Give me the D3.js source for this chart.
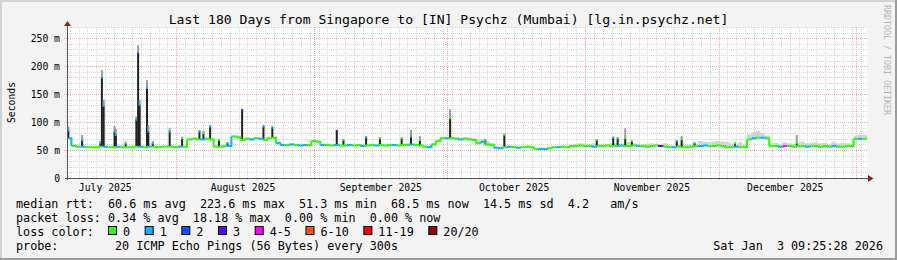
<!DOCTYPE html>
<html>
<head>
<meta charset="utf-8">
<script src="https://cdn.jsdelivr.net/npm/d3@7"></script>
<style>
  html, body { margin: 0; padding: 0; background: #f3f3f3; }
  svg { display: block; }
  text { font-family: "DejaVu Sans Mono", monospace; fill: #000; white-space: pre; }
</style>
</head>
<body>
<svg id="chart" width="897" height="260"></svg>
<script>
'use strict';

var chartTitle = 'Last 180 Days from Singapore to [IN] Psychz (Mumbai) [lg.in.psychz.net]';
var startTime = Date.UTC(2025, 6, 7, 9, 25, 28),
    endTime = Date.UTC(2026, 0, 3, 9, 25, 28);

// daily median rtt (ms), one value per day from the start
var medianMs = [
  71,57,56,56,55,55,55,56,56,55, 55,56,55,55,55,56,56,55,56,56,
  55,56,56,56,55,56,56,69,70,69, 69,70,69,56,56,57,57,74,73,68,
  70,69,71,70,68,71,72,62,59,59, 60,59,58,59,59,66,65,59,59,58,
  59,58,58,59,58,59,57,58,59,58, 59,58,59,59,58,59,59,60,59,58,
  56,55,60,66,71,71,71,70,69,70, 69,68,62,65,60,59,54,53,55,56,
  55,54,55,56,55,52,52,52,53,55, 55,56,55,57,57,58,57,57,56,57,
  57,58,57,57,58,57,57,58,57,57, 56,57,58,57,56,55,55,56,55,55,
  56,57,57,58,57,57,58,57,55,55, 56,55,55,69,71,72,72,71,57,57,
  56,57,57,56,57,57,56,57,57,56, 57,56,57,56,56,57,57,70,70,70
];

// daily upper edge of the smoke (ms)
var smokeHiMs = [
  74,58,57,57,56,56,56,58,57,56, 56,57,56,56,56,57,58,56,58,57,
  56,57,57,58,56,57,57,71,72,71, 71,72,71,58,58,59,59,76,75,70,
  72,71,73,72,70,73,74,65,61,61, 62,61,60,61,61,68,67,61,61,60,
  61,60,60,61,60,61,59,60,61,60, 61,60,61,61,60,61,62,61,60,61,
  58,57,63,69,74,74,74,73,72,73, 72,71,68,70,66,63,56,55,57,58,
  57,56,57,58,57,54,54,54,55,57, 57,58,57,60,61,62,61,60,62,61,
  60,61,62,62,61,62,64,62,61,60, 61,62,60,60,62,59,58,60,60,59,
  60,61,66,65,64,65,66,65,64,62, 60,64,60,78,82,84,80,76,62,63,
  61,64,62,61,63,65,62,63,64,62, 63,61,64,62,63,62,61,76,78,77
];

// days where pings were lost (index into lossColors)
var lossDay = [0,3,8,11,16,18,25,30,36,41, 43,47,48,50,52,53,57,60,63,66,
               69,73,77,81,85,88,93,96,97,99, 101,106,107,110,118,124,128,133,136,142,
               143,150,154,156,160,161,166,172,178];
var lossIdx = [1,1,1,1,1,1,1,1,1,1, 1,1,1,1,1,1,1,1,1,1,
               1,1,1,1,1,1,1,1,1,1, 1,1,1,1,1,1,1,3,1,1,
               1,1,1,1,1,4,1,1,1];

// short latency spikes
var spikeDay = [0.3,3.4,7.5,7.85,8.25,10.7,11.0,13.2,15.6,16.0,
                16.35,18.0,18.3,19.3,23.1,25.9,29.8,30.7,32.2,34.2,
                36.1,39.4,44.2,46.2,60.7,62.2,67.3,70.4,75.3,77.4,
                79.4,86.2,91.8,94.1,98.4,119.2,122.9,123.9,125.6,127.1,
                137.2,138.3,141.2,150.3,164.2];
var spikeMs = [85,68,62,180,129,83,77,62,104,222,
               131,161,83,62,83,71,83,80,92,68,
               62,121,92,90,84,68,73,71,71,74,
               68,107,68,68,77,68,72,71,71,66,
               66,69,62,62,62];
var spikeTopMs = [92,77,66,193,140,93,88,65,110,237,
                  140,175,95,66,89,74,86,84,95,70,
                  64,124,95,93,86,70,75,73,73,86,
                  75,123,70,70,80,70,74,73,89,68,
                  68,75,64,64,77];
var spikeLoss = [1,1,1,1,1,1,1,0,1,3,
                 1,1,1,1,1,0,1,0,1,0,
                 1,3,1,1,3,0,1,0,0,1,
                 0,0,0,0,0,0,1,0,0,0,
                 1,0,1,0,0];

var yTicks = [0, 50, 100, 150, 200, 250],
    yTickLabels = ['0', '50 m', '100 m', '150 m', '200 m', '250 m'];

var lossLabels = ['0', '1', '2', '3', '4-5', '6-10', '11-19', '20/20'],
    lossColors = ['#26ff00', '#00b8ff', '#0059ff', '#5e00ff', '#ff00ff', '#ff5500', '#ff0000', '#a00000'];

var rttStats = [60.6, 223.6, 51.3, 68.5, 14.5],   // avg, max, min, now, sd
    amS = 4.2,
    lossStats = [0.34, 18.18, 0.00, 0.00],        // avg, max, min, now
    probeText = '20 ICMP Echo Pings (56 Bytes) every 300s',
    stampText = 'Sat Jan  3 09:25:28 2026';


//////////////////////////////////////////////////////
var width = 897,
    height = 260,
    plotL = 67, plotR = 867, plotT = 27, plotB = 178,
    charW = 7.07;

var svg = d3.select('#chart');

var x = d3.scaleUtc().domain([startTime, endTime]).range([plotL, plotR]);
var y = d3.scaleLinear().domain([0, 270]).range([plotB, plotT]);

function dayTime(d) { return startTime + d * 864e5; }

var loss = medianMs.map(function() { return 0; });
lossDay.forEach(function(d, i) { loss[d] = lossIdx[i]; });

// frame
svg.append('rect').attr('width', width).attr('height', height).attr('fill', '#f3f3f3');
svg.append('path').attr('d', 'M0,0H897V2H2V260H0Z').attr('fill', '#d2d2d2');
svg.append('path').attr('d', 'M897,0V260H0V258H895V0Z').attr('fill', '#9c9c9c');
svg.append('rect')
    .attr('x', plotL).attr('y', plotT)
    .attr('width', plotR - plotL).attr('height', plotB - plotT)
    .attr('fill', '#fff');

// grid
var grid = svg.append('g').attr('shape-rendering', 'crispEdges');
var minorY = d3.range(10, 271, 10).filter(function(v) { return v % 50 !== 0; });

grid.selectAll('.hminor').data(minorY).enter().append('line')
    .attr('x1', plotL - 2).attr('x2', plotR)
    .attr('y1', function(d) { return Math.round(y(d)) + 0.5; })
    .attr('y2', function(d) { return Math.round(y(d)) + 0.5; })
    .attr('stroke', '#d6d6d6').attr('stroke-dasharray', '1,1');

var gridAnchor = Date.UTC(2025, 7, 1);
var minorX = d3.utcDay.range(startTime, endTime).filter(function(d) {
  var n = Math.round((d - gridAnchor) / 864e5);
  return ((n % 2) + 2) % 2 === 0;
});
grid.selectAll('.vminor').data(minorX).enter().append('line')
    .attr('x1', function(d) { return Math.round(x(d)) + 0.5; })
    .attr('x2', function(d) { return Math.round(x(d)) + 0.5; })
    .attr('y1', plotT).attr('y2', plotB + 2)
    .attr('stroke', '#d6d6d6').attr('stroke-dasharray', '1,1');

grid.selectAll('.hmajor').data(yTicks.slice(1)).enter().append('line')
    .attr('x1', plotL - 3).attr('x2', plotR)
    .attr('y1', function(d) { return Math.round(y(d)) + 0.5; })
    .attr('y2', function(d) { return Math.round(y(d)) + 0.5; })
    .attr('stroke', '#eeaaaa').attr('stroke-dasharray', '1,1');

var months = d3.utcMonth.range(startTime, endTime);
grid.selectAll('.vmajor').data(months).enter().append('line')
    .attr('x1', function(d) { return Math.round(x(d)) + 0.5; })
    .attr('x2', function(d) { return Math.round(x(d)) + 0.5; })
    .attr('y1', plotT).attr('y2', plotB + 3)
    .attr('stroke', '#eeaaaa').attr('stroke-dasharray', '1,1');

// smoke
var days = d3.range(medianMs.length);
svg.append('g').selectAll('rect').data(days).enter().append('rect')
    .attr('x', function(i) { return x(dayTime(i)); })
    .attr('width', function(i) { return x(dayTime(i + 1)) - x(dayTime(i)); })
    .attr('y', function(i) { return y(smokeHiMs[i]); })
    .attr('height', function(i) { return y(medianMs[i]) - y(smokeHiMs[i]); })
    .attr('fill', '#d2d2d2');

// spikes
var spikes = spikeDay.map(function(d, i) {
  return { t: dayTime(d), base: medianMs[Math.floor(d)], ms: spikeMs[i], top: spikeTopMs[i], loss: spikeLoss[i] };
});
var sp = svg.append('g').selectAll('g').data(spikes).enter().append('g');
sp.append('rect')
    .attr('x', function(d) { return x(d.t) - 1; }).attr('width', 2)
    .attr('y', function(d) { return y(d.top); })
    .attr('height', function(d) { return y(d.ms) - y(d.top); })
    .attr('fill', '#9a9a9a');
sp.append('rect')
    .attr('x', function(d) { return x(d.t) - 1; }).attr('width', 2)
    .attr('y', function(d) { return y(d.ms); })
    .attr('height', function(d) { return y(d.base) - y(d.ms); })
    .attr('fill', '#222');
sp.append('rect')
    .attr('x', function(d) { return x(d.t) - 1; }).attr('width', 2)
    .attr('y', function(d) { return y(d.ms) - 1; }).attr('height', 2)
    .attr('fill', function(d) { return lossColors[d.loss]; });

// median line, coloured by loss
var step = d3.line()
    .x(function(p) { return x(dayTime(p[0])); })
    .y(function(p) { return y(p[1]); })
    .curve(d3.curveStepAfter);

svg.append('g').selectAll('path').data(days).enter().append('path')
    .attr('d', function(i) {
      var next = i + 1 < medianMs.length ? medianMs[i + 1] : medianMs[i];
      return step([[i, medianMs[i]], [i + 1, next]]);
    })
    .attr('fill', 'none')
    .attr('stroke', function(i) { return lossColors[loss[i]]; })
    .attr('stroke-width', 2);

// axes
svg.append('line').attr('x1', plotL + 0.5).attr('x2', plotL + 0.5).attr('y1', plotB + 2).attr('y2', 23)
    .attr('stroke', '#555').attr('shape-rendering', 'crispEdges');
svg.append('line').attr('x1', plotL - 2).attr('x2', 870).attr('y1', plotB + 0.5).attr('y2', plotB + 0.5)
    .attr('stroke', '#555').attr('shape-rendering', 'crispEdges');
svg.append('path').attr('d', 'M64,26L71,26L67.5,21Z').attr('fill', '#9b1c1c');
svg.append('path').attr('d', 'M868,175L868,182L873.5,178.5Z').attr('fill', '#9b1c1c');

// axis labels
svg.selectAll('.ylab').data(yTicks).enter().append('text')
    .attr('x', 60).attr('y', function(d) { return y(d) + 3.8; })
    .attr('text-anchor', 'end').attr('font-size', '9.75px')
    .text(function(d, i) { return yTickLabels[i]; });

svg.append('text')
    .attr('transform', 'translate(14.5,' + ((plotT + plotB) / 2) + ') rotate(-90)')
    .attr('text-anchor', 'middle').attr('font-size', '9.75px')
    .text('Seconds');

var labelMonths = d3.utcMonth.range(d3.utcMonth.floor(startTime), endTime).map(function(m) {
  return d3.utcDay.offset(m, 15);
}).filter(function(d) { return d >= startTime && d <= endTime; });
svg.selectAll('.xlab').data(labelMonths).enter().append('text')
    .attr('x', function(d) { return x(d); }).attr('y', 191)
    .attr('text-anchor', 'middle').attr('font-size', '9.75px')
    .text(d3.utcFormat('%B %Y'));

svg.append('text')
    .attr('x', width / 2).attr('y', 23.5)
    .attr('text-anchor', 'middle').attr('font-size', '13.1px')
    .text(chartTitle);

svg.append('text')
    .attr('transform', 'translate(884,5) rotate(90)')
    .attr('font-size', '8.3px').style('fill', '#b4b4b4')
    .text('RRDTOOL / TOBI OETIKER');

// legend
var f1 = d3.format('.1f'), f2 = d3.format('.2f');
var legendLines = [
  'median rtt:  ' + f1(rttStats[0]) + ' ms avg  ' + f1(rttStats[1]) + ' ms max  ' +
    f1(rttStats[2]) + ' ms min  ' + f1(rttStats[3]) + ' ms now  ' + f1(rttStats[4]) +
    ' ms sd  ' + f1(amS) + '   am/s',
  'packet loss: ' + f2(lossStats[0]) + ' % avg  ' + f2(lossStats[1]) + ' % max  ' +
    f2(lossStats[2]) + ' % min  ' + f2(lossStats[3]) + ' % now',
  'loss color:',
  'probe:       ' + ' ' + probeText
];
svg.selectAll('.leg').data(legendLines).enter().append('text')
    .attr('x', 16).attr('y', function(d, i) { return 208 + i * 14; })
    .attr('font-size', '11.75px')
    .text(function(d) { return d; });

var bx = 108.5, boxes = [];
lossLabels.forEach(function(l, i) {
  boxes.push({ x: bx, label: l, color: lossColors[i] });
  bx += 15 + l.length * charW + 14.6;
});
var lg = svg.append('g').selectAll('g').data(boxes).enter().append('g');
lg.append('rect')
    .attr('x', function(d) { return d.x; }).attr('y', 226.5)
    .attr('width', 8).attr('height', 8)
    .attr('fill', function(d) { return d.color; })
    .attr('stroke', '#000').attr('stroke-width', 1);
lg.append('text')
    .attr('x', function(d) { return d.x + 14.5; }).attr('y', 236)
    .attr('font-size', '11.75px')
    .text(function(d) { return d.label; });

svg.append('text')
    .attr('x', 883).attr('y', 250)
    .attr('text-anchor', 'end').attr('font-size', '11.75px')
    .text(stampText);
</script>
</body>
</html>
